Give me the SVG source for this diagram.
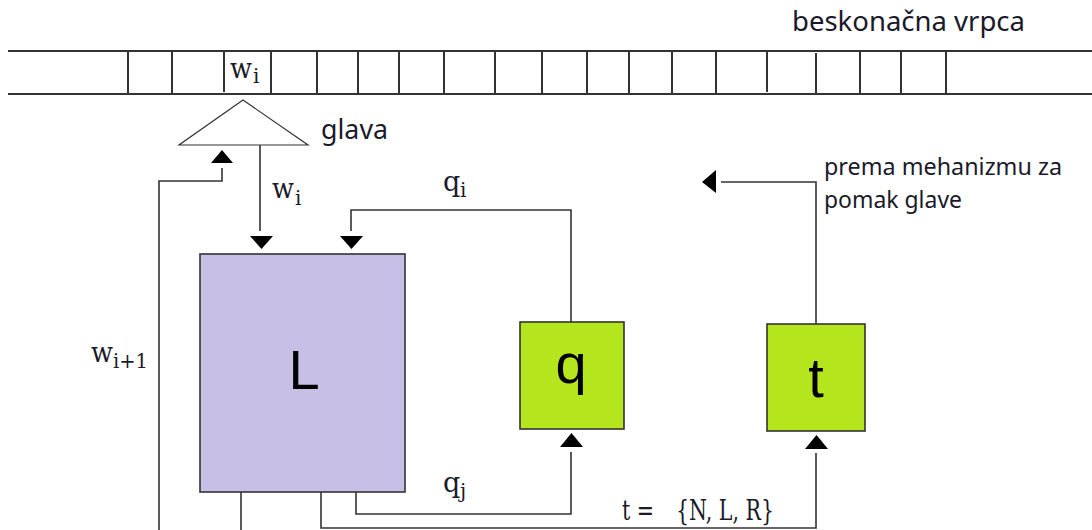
<svg xmlns="http://www.w3.org/2000/svg" width="1092" height="530" viewBox="0 0 1092 530">
<style>
.ln{fill:none;stroke:#333;stroke-width:1.6}
.tp{fill:none;stroke:#333;stroke-width:2}
.ah{fill:#000;stroke:none}
.lbl{font-family:"Noto Sans","Open Sans",sans-serif;fill:#1a1a2a}
.m{font-family:"DejaVu Serif","Liberation Serif",serif;fill:#1a1a2a}
.big{font-family:"Liberation Sans",Arial,sans-serif;font-size:56px;fill:#000;text-anchor:middle}
</style>
<rect width="1092" height="530" fill="#fff"/>
<g id="tape">
<path class="tp" d="M8 51H1092M8 94H1092"/>
<path class="tp" d="M128 51V94M172 51V94M224 51V92M271 51V94M317 51V94M358 51V94M399 51V94M444 51V94M495 51V94M542 51V94M587 51V94M629 51V94M672 51V94M716 51V94M767 51V92M816 53V94M860 51V94M901 51V94M946 51V94"/>
<text class="m" x="230" y="78" font-size="27" textLength="22" lengthAdjust="spacingAndGlyphs">w</text><text class="m" x="253" y="83" font-size="20">i</text>
<text class="lbl" x="792" y="31" font-size="27" textLength="233" lengthAdjust="spacingAndGlyphs">beskonačna vrpca</text>
</g>
<g id="head">
<polygon points="243,100 308,145 179,145" fill="#fff" stroke="#333" stroke-width="1.2"/>
<text class="lbl" x="321" y="139" font-size="27" textLength="67" lengthAdjust="spacingAndGlyphs">glava</text>
</g>
<g id="L">
<rect x="200" y="254" width="205" height="238" fill="#c8bfe7" stroke="#333" stroke-width="1.6"/>
<text class="big" x="304" y="389">L</text>
</g>
<g id="q">
<rect x="520" y="322" width="104" height="107" fill="#b5e61d" stroke="#333" stroke-width="1.6"/>
<text class="big" x="571" y="383">q</text>
</g>
<g id="t">
<rect x="767" y="324" width="98" height="107" fill="#b5e61d" stroke="#333" stroke-width="1.6"/>
<text class="big" x="816" y="397">t</text>
</g>
<g id="connectors">
<path class="ln" d="M260 145V231"/>
<polygon class="ah" points="250,236 273,236 261.5,249"/>
<path class="ln" d="M571 322V210H351V231"/>
<polygon class="ah" points="340,236 363,236 351.5,249"/>
<path class="ln" d="M159 530V181H222V168"/>
<polygon class="ah" points="222,150 233,163 211,163"/>
<path class="ln" d="M241 492V530"/>
<path class="ln" d="M356 492V514H571V452"/>
<polygon class="ah" points="571.5,433 583,447 560,447"/>
<path class="ln" d="M321 492V528H816V453"/>
<polygon class="ah" points="816.5,435 828,449 805,449"/>
<path class="ln" d="M816 324V182H721"/>
<polygon class="ah" points="702,182 716,170 716,193"/>
</g>
<g id="labels">
<text class="m" x="272" y="198" font-size="27" textLength="22" lengthAdjust="spacingAndGlyphs">w</text><text class="m" x="295" y="205" font-size="20">i</text>
<text class="m" x="443" y="191" font-size="27">q</text><text class="m" x="460" y="197" font-size="20">i</text>
<text class="m" x="443" y="492" font-size="27">q</text><text class="m" x="460" y="498" font-size="20">j</text>
<text class="m" x="91" y="362" font-size="27" textLength="22" lengthAdjust="spacingAndGlyphs">w</text><text class="m" x="113" y="368" font-size="20" textLength="35" lengthAdjust="spacingAndGlyphs">i+1</text>
<text class="m" x="622" y="520" font-size="27" textLength="32" lengthAdjust="spacingAndGlyphs">t =</text>
<text class="m" x="676" y="520" font-size="27" textLength="98" lengthAdjust="spacingAndGlyphs">{N, L, R}</text>
<text class="lbl" x="824" y="175" font-size="23" textLength="238" lengthAdjust="spacingAndGlyphs">prema mehanizmu za</text>
<text class="lbl" x="824" y="208" font-size="23" textLength="138" lengthAdjust="spacingAndGlyphs">pomak glave</text>
</g>
</svg>
